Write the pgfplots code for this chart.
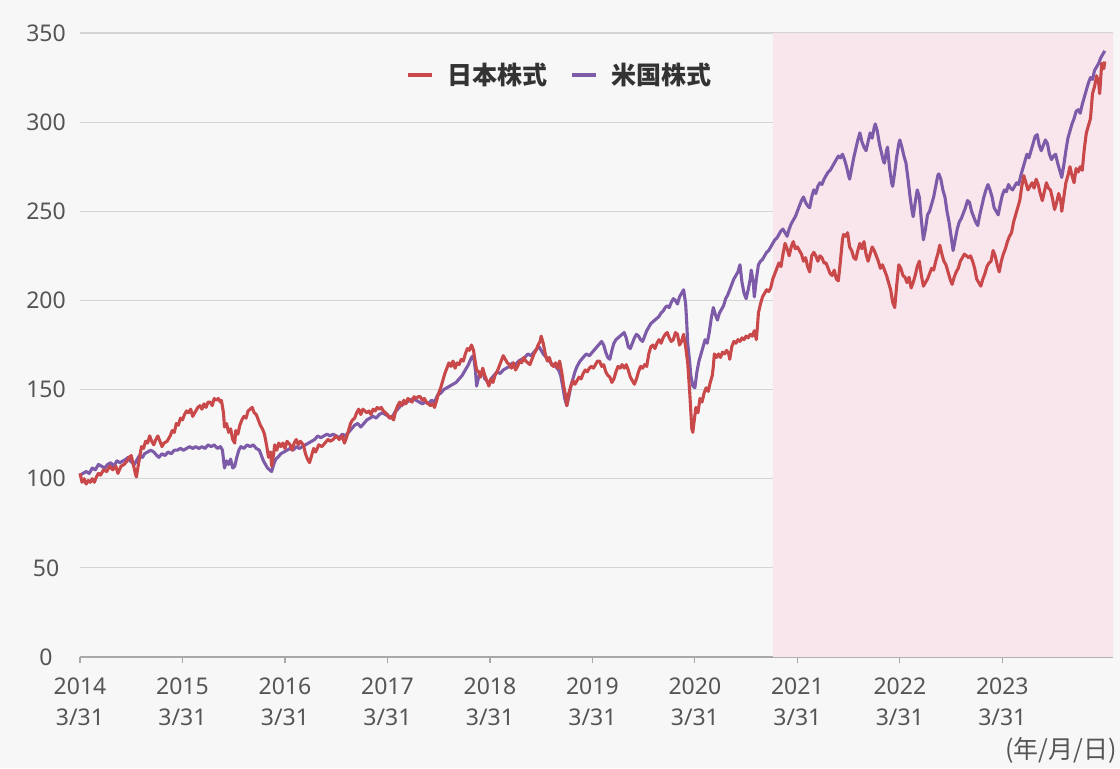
\documentclass[border=0pt]{standalone}
\usepackage{fontspec}
\usepackage{pgfplots}
\pgfplotsset{compat=1.18}
\setmainfont{Noto Sans}
\newfontfamily\jp{Noto Sans CJK JP}
\definecolor{bg}{HTML}{F7F7F7}
\definecolor{pinkbg}{HTML}{F9E6EC}
\definecolor{jpred}{HTML}{C9494B}
\definecolor{uspur}{HTML}{7D5BA8}
\definecolor{gridc}{HTML}{D4D4D4}
\definecolor{txt}{HTML}{555555}
\definecolor{axc}{HTML}{A8A8A8}
\begin{document}
\begin{tikzpicture}[x=1pt,y=1pt]
\path[use as bounding box, fill=bg] (0,0) rectangle (560,384);
\begin{axis}[
  at={(40pt,55.5pt)}, anchor=south west,
  scale only axis, width=516.5pt, height=312pt,
  xmin=0, xmax=10.08, ymin=0, ymax=350,
  axis x line*=bottom, axis y line*=left,
  y axis line style={draw=none},
  x axis line style={draw=axc, line width=0.8pt},
  ytick={0,50,...,350}, ytick style={draw=none},
  ymajorgrids, grid style={draw=gridc, line width=0.6pt},
  xtick={0,1,...,9},
  xtick align=outside, major tick length=3pt,
  xtick style={draw=axc, line width=0.6pt},
  xticklabels={{2014\\3/31},{2015\\3/31},{2016\\3/31},{2017\\3/31},{2018\\3/31},{2019\\3/31},{2020\\3/31},{2021\\3/31},{2022\\3/31},{2023\\3/31}},
  xticklabel style={align=center, text=txt, font=\fontsize{11.5}{15.5}\selectfont, yshift=-4pt},
  yticklabel style={anchor=center, xshift=-17pt, text=txt, font=\fontsize{11.5}{14}\selectfont},
  /pgf/number format/assume math mode=true,
  legend columns=2,
  legend style={draw=none, fill=none, at={(0.3155,0.933)}, anchor=west, inner sep=0pt,
    font=\jp\bfseries\fontsize{12.5}{14}\selectfont, text=black!80,
    /tikz/every odd column/.append style={column sep=4.5pt},
    /tikz/every even column/.append style={column sep=9.5pt}},
  legend image code/.code={\draw[line width=2pt,#1] (0pt,0pt) -- (12pt,0pt);},
  clip=false,
]
\addplot[fill=pinkbg, draw=none, forget plot] coordinates {(6.76,0) (10.08,0) (10.08,350) (6.76,350)} \closedcycle;
\addplot[uspur, line width=1.55pt, line join=round, forget plot] table {
0.00 102
0.03 103
0.06 104
0.09 103
0.12 106
0.15 105
0.18 108
0.21 107
0.24 106
0.27 108
0.30 109
0.33 107
0.36 110
0.39 109
0.42 110
0.45 111
0.47 112
0.49 110
0.51 109
0.53 108
0.55 110
0.58 113
0.61 112
0.63 114
0.66 115
0.69 116
0.72 115
0.75 113
0.77 112
0.80 114
0.83 113
0.86 115
0.89 114
0.92 116
0.95 116
0.98 117
1.01 116
1.04 117
1.07 118
1.10 117
1.13 118
1.16 117
1.19 118
1.22 117
1.25 119
1.28 118
1.31 119
1.34 117
1.37 118
1.39 116
1.41 106
1.43 110
1.45 108
1.47 111
1.49 106
1.51 107
1.53 112
1.55 116
1.57 118
1.60 117
1.63 119
1.66 118
1.69 119
1.72 117
1.75 116
1.77 113
1.79 110
1.81 108
1.83 106
1.85 105
1.87 104
1.89 108
1.91 111
1.93 112
1.96 114
1.99 115
2.02 116
2.05 117
2.08 116
2.11 118
2.14 117
2.17 118
2.20 119
2.23 120
2.26 121
2.29 122
2.32 124
2.35 123
2.38 124
2.41 125
2.44 124
2.47 125
2.50 124
2.53 123
2.56 125
2.59 124
2.62 126
2.65 128
2.68 130
2.71 131
2.74 129
2.77 131
2.80 133
2.83 134
2.86 135
2.89 134
2.92 136
2.95 137
2.98 136
3.01 135
3.04 134
3.07 137
3.10 139
3.13 141
3.16 142
3.19 143
3.22 144
3.25 145
3.28 144
3.31 143
3.34 142
3.37 143
3.40 142
3.43 144
3.46 143
3.49 147
3.52 148
3.55 150
3.58 151
3.61 152
3.64 153
3.67 154
3.70 156
3.73 158
3.76 161
3.79 164
3.82 168
3.84 169
3.86 160
3.87 152
3.89 157
3.91 159
3.93 161
3.95 156
3.97 155
3.99 153
4.01 156
4.04 158
4.07 160
4.10 159
4.13 161
4.16 162
4.19 163
4.22 165
4.25 164
4.28 166
4.31 167
4.34 168
4.37 170
4.40 169
4.43 171
4.46 173
4.48 174
4.50 172
4.52 170
4.55 168
4.58 166
4.61 164
4.64 163
4.67 161
4.69 158
4.71 152
4.73 145
4.75 141
4.77 146
4.79 152
4.81 156
4.83 160
4.85 163
4.88 166
4.91 168
4.94 170
4.97 169
5.00 171
5.03 173
5.06 175
5.09 177
5.11 175
5.13 171
5.15 168
5.17 167
5.19 172
5.21 176
5.23 178
5.25 179
5.27 180
5.29 181
5.31 182
5.33 179
5.35 174
5.37 173
5.39 176
5.41 179
5.43 181
5.45 180
5.47 178
5.49 177
5.51 180
5.53 183
5.55 185
5.57 187
5.59 188
5.61 189
5.63 190
5.65 191
5.67 193
5.69 194
5.71 196
5.73 197
5.75 196
5.77 199
5.79 201
5.81 200
5.83 198
5.85 202
5.87 204
5.89 206
5.91 198
5.92 188
5.93 176
5.95 165
5.96 158
5.98 152
6.00 151
6.02 160
6.04 166
6.06 170
6.08 174
6.10 178
6.12 176
6.14 182
6.16 190
6.18 196
6.20 192
6.22 189
6.24 193
6.26 195
6.28 197
6.30 201
6.32 203
6.34 206
6.36 209
6.38 212
6.40 214
6.42 216
6.44 220
6.46 210
6.48 204
6.50 201
6.52 206
6.54 212
6.55 217
6.57 210
6.58 202
6.60 212
6.62 220
6.64 222
6.66 223
6.68 225
6.70 227
6.72 228
6.74 230
6.76 232
6.78 234
6.80 235
6.82 237
6.84 239
6.86 240
6.88 238
6.90 236
6.92 240
6.94 243
6.96 245
6.98 247
7.00 250
7.02 253
7.04 256
7.06 258
7.08 255
7.10 253
7.12 252
7.14 258
7.16 262
7.18 260
7.20 264
7.22 266
7.24 265
7.26 268
7.28 270
7.30 272
7.32 273
7.34 275
7.36 277
7.38 279
7.40 281
7.42 280
7.44 282
7.46 279
7.48 275
7.50 270
7.51 268
7.53 274
7.55 280
7.57 285
7.59 290
7.61 294
7.63 289
7.65 286
7.67 284
7.69 289
7.71 294
7.73 291
7.75 297
7.76 299
7.78 295
7.80 288
7.82 283
7.84 278
7.85 277
7.87 284
7.88 286
7.90 274
7.92 266
7.93 264
7.95 272
7.97 281
7.99 288
8.00 290
8.02 286
8.04 281
8.06 277
8.08 268
8.10 258
8.12 250
8.13 247
8.15 255
8.17 262
8.19 258
8.21 245
8.23 234
8.25 240
8.27 248
8.29 250
8.31 254
8.33 258
8.35 264
8.37 270
8.38 271
8.40 268
8.42 262
8.44 258
8.46 250
8.48 244
8.50 236
8.52 228
8.54 234
8.56 240
8.58 244
8.60 246
8.62 249
8.64 252
8.66 256
8.68 255
8.70 250
8.72 247
8.74 244
8.76 242
8.78 248
8.80 253
8.82 258
8.84 262
8.86 265
8.88 262
8.90 258
8.92 252
8.94 250
8.96 248
8.98 254
9.00 259
9.02 262
9.04 261
9.06 265
9.08 263
9.10 262
9.12 264
9.14 266
9.16 265
9.18 270
9.20 274
9.22 278
9.24 282
9.26 280
9.28 284
9.30 288
9.32 292
9.34 293
9.36 287
9.38 284
9.40 287
9.42 290
9.44 288
9.46 282
9.48 279
9.50 281
9.52 282
9.54 277
9.56 273
9.58 269
9.60 276
9.62 284
9.64 291
9.66 295
9.68 299
9.70 302
9.72 306
9.74 307
9.76 305
9.78 310
9.80 314
9.82 318
9.84 322
9.86 325
9.88 324
9.90 329
9.92 331
9.94 333
9.96 336
9.98 338
10.00 340
};
\addplot[jpred, line width=1.55pt, line join=round, forget plot] table {
0.00 103
0.02 98
0.04 100
0.06 97
0.08 99
0.10 98
0.12 100
0.14 98
0.16 101
0.18 103
0.20 102
0.23 105
0.26 104
0.29 107
0.32 105
0.35 107
0.37 103
0.40 107
0.43 108
0.46 110
0.48 112
0.50 113
0.52 108
0.54 103
0.55 101
0.57 108
0.60 118
0.62 117
0.64 121
0.66 120
0.68 124
0.70 121
0.72 119
0.74 122
0.76 124
0.78 121
0.80 118
0.82 120
0.85 121
0.88 124
0.90 127
0.92 126
0.94 131
0.96 130
0.98 134
1.00 133
1.02 136
1.04 138
1.06 137
1.08 139
1.10 135
1.12 137
1.15 140
1.17 141
1.19 139
1.21 142
1.23 140
1.25 143
1.27 143
1.29 141
1.31 145
1.33 144
1.35 145
1.37 143
1.38 144
1.40 137
1.41 129
1.43 131
1.45 126
1.47 128
1.49 122
1.51 120
1.52 127
1.54 125
1.56 130
1.58 133
1.60 135
1.62 134
1.64 138
1.66 139
1.68 140
1.70 137
1.72 136
1.74 133
1.76 130
1.78 128
1.80 125
1.82 119
1.84 112
1.86 115
1.87 107
1.89 114
1.90 119
1.92 116
1.94 120
1.96 118
1.98 120
2.00 117
2.02 121
2.05 119
2.07 116
2.09 120
2.11 122
2.13 119
2.15 121
2.18 119
2.20 114
2.22 111
2.24 109
2.26 113
2.28 117
2.30 115
2.33 119
2.36 118
2.39 120
2.42 122
2.44 121
2.47 122
2.50 124
2.53 122
2.56 124
2.58 120
2.60 123
2.62 127
2.64 131
2.66 133
2.68 134
2.70 137
2.72 139
2.74 136
2.76 139
2.78 138
2.80 137
2.82 138
2.84 136
2.86 139
2.88 138
2.90 140
2.92 139
2.94 140
2.96 138
2.98 137
3.00 136
3.02 134
3.04 135
3.06 133
3.08 138
3.10 141
3.12 143
3.14 141
3.16 144
3.18 142
3.20 145
3.22 144
3.24 143
3.26 146
3.28 145
3.30 146
3.32 146
3.34 144
3.36 145
3.38 143
3.40 142
3.42 141
3.44 142
3.46 140
3.48 144
3.50 148
3.52 151
3.54 155
3.56 159
3.58 162
3.60 165
3.62 163
3.64 166
3.66 162
3.68 165
3.70 164
3.72 167
3.74 166
3.76 170
3.78 173
3.80 172
3.82 175
3.84 172
3.85 168
3.87 161
3.89 160
3.91 157
3.93 162
3.95 158
3.97 155
3.99 152
4.01 156
4.03 154
4.05 158
4.07 160
4.09 163
4.11 166
4.13 169
4.15 167
4.17 165
4.19 164
4.21 162
4.23 165
4.25 161
4.27 163
4.29 166
4.31 165
4.33 168
4.35 166
4.37 165
4.39 164
4.41 167
4.43 170
4.45 172
4.47 175
4.49 177
4.50 180
4.52 176
4.54 170
4.56 166
4.58 168
4.60 164
4.62 163
4.64 165
4.66 162
4.68 166
4.70 160
4.72 152
4.74 146
4.75 141
4.77 148
4.79 152
4.81 155
4.83 153
4.85 155
4.87 157
4.89 156
4.91 159
4.93 161
4.95 160
4.97 162
4.99 163
5.01 162
5.03 164
5.05 166
5.07 166
5.09 163
5.11 164
5.13 160
5.15 158
5.17 157
5.19 154
5.21 156
5.23 160
5.25 163
5.27 162
5.29 164
5.31 162
5.33 164
5.35 161
5.37 157
5.39 155
5.41 153
5.43 156
5.45 160
5.47 163
5.49 162
5.51 164
5.53 163
5.55 170
5.57 174
5.59 175
5.61 173
5.63 176
5.65 178
5.67 176
5.69 179
5.71 181
5.73 182
5.75 179
5.77 177
5.79 178
5.81 182
5.83 181
5.85 175
5.87 177
5.89 181
5.91 174
5.93 165
5.95 148
5.96 138
5.97 128
5.98 126
5.99 131
6.01 140
6.03 137
6.05 145
6.07 143
6.09 148
6.11 151
6.13 149
6.15 154
6.17 158
6.18 163
6.19 170
6.21 168
6.23 170
6.25 168
6.27 171
6.29 170
6.31 172
6.33 170
6.34 167
6.36 174
6.38 177
6.40 176
6.42 178
6.44 177
6.46 179
6.48 178
6.50 180
6.52 179
6.54 181
6.56 180
6.58 183
6.60 178
6.61 185
6.62 193
6.64 198
6.66 202
6.68 204
6.70 206
6.72 205
6.74 207
6.76 212
6.78 215
6.80 218
6.82 221
6.84 219
6.86 226
6.88 232
6.90 229
6.92 225
6.94 230
6.96 233
6.98 229
7.00 230
7.02 228
7.04 226
7.06 222
7.08 224
7.10 219
7.12 216
7.14 225
7.16 227
7.18 225
7.20 222
7.22 225
7.24 224
7.26 221
7.28 221
7.30 218
7.32 215
7.34 214
7.36 217
7.38 212
7.40 211
7.42 222
7.44 234
7.45 237
7.47 236
7.49 238
7.51 230
7.53 228
7.55 224
7.57 223
7.59 228
7.61 232
7.63 229
7.65 233
7.67 226
7.69 222
7.71 226
7.73 230
7.75 228
7.77 225
7.79 222
7.81 218
7.83 220
7.85 217
7.87 214
7.89 210
7.91 206
7.93 199
7.95 196
7.97 209
7.99 220
8.01 218
8.03 214
8.05 213
8.07 210
8.09 213
8.11 207
8.13 210
8.15 214
8.17 219
8.19 222
8.21 214
8.23 208
8.25 210
8.27 212
8.29 215
8.31 218
8.33 217
8.35 222
8.37 226
8.39 231
8.41 226
8.43 222
8.45 220
8.47 216
8.49 212
8.51 209
8.53 213
8.55 216
8.57 218
8.59 222
8.61 224
8.63 226
8.65 225
8.67 224
8.69 225
8.71 222
8.73 218
8.75 212
8.77 210
8.79 208
8.81 212
8.83 215
8.85 219
8.87 221
8.89 222
8.91 228
8.93 225
8.95 220
8.97 216
8.99 222
9.01 226
9.03 229
9.05 233
9.07 236
9.09 238
9.11 244
9.13 248
9.15 252
9.17 256
9.19 264
9.21 270
9.23 266
9.25 262
9.27 264
9.29 266
9.31 263
9.33 268
9.35 265
9.37 260
9.39 256
9.41 261
9.43 266
9.45 263
9.47 262
9.49 257
9.51 251
9.53 255
9.55 260
9.57 256
9.58 250
9.60 258
9.62 266
9.64 270
9.66 275
9.68 270
9.70 266
9.72 274
9.74 272
9.76 275
9.78 273
9.80 285
9.82 294
9.84 298
9.86 302
9.88 316
9.90 320
9.92 326
9.94 322
9.95 316
9.97 333
9.99 330
10.00 334
};
\addlegendimage{jpred}
\addlegendentry{日本株式}
\addlegendimage{uspur}
\addlegendentry{米国株式}
\node[anchor=east, text=txt, font=\jp\fontsize{12.5}{14}\selectfont, inner sep=0pt] at ([yshift=-46.5pt,xshift=2pt]rel axis cs:1,0) {(年/月/日)};
\end{axis}
\end{tikzpicture}
\end{document}
